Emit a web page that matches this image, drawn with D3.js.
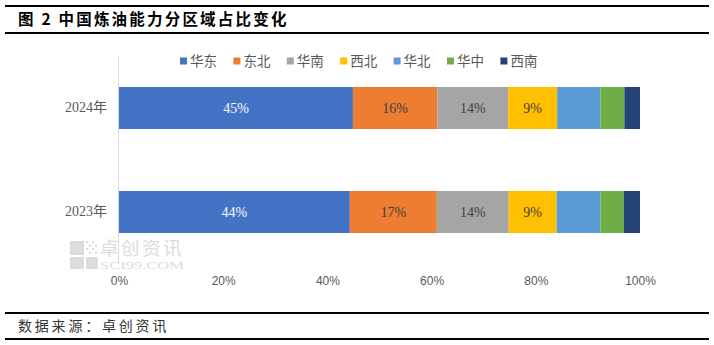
<!DOCTYPE html>
<html>
<head>
<meta charset="utf-8">
<script src="https://cdn.jsdelivr.net/npm/d3@7/dist/d3.min.js"></script>
<style>
  html, body { margin: 0; padding: 0; background: #fff; }
  svg { display: block; }
</style>
</head>
<body>
<svg id="chart" width="714" height="345"></svg>
<script>
// Refining capacity share by region, 2023 vs 2024 (percent)
const years = ["2024年", "2023年"];
const regions = ["华东", "东北", "华南", "西北", "华北", "华中", "西南"];
const colors = ["#4472C4", "#ED7D31", "#A5A5A5", "#FFC000", "#5B9BD5", "#70AD47", "#264478"];
const share2024 = [44.9, 16.2, 13.6, 9.4, 8.3, 4.6, 3.0];
const share2023 = [44.3, 16.7, 13.8, 9.2, 8.4, 4.5, 3.1];
const tickValues = [0, 20, 40, 60, 80, 100];
// Only the first four segments carry value labels
const labeledCount = 4;

const svg = d3.select("#chart");
const cjk = "'Noto Sans CJK SC', 'Noto Sans', sans-serif";
const serif = "'Liberation Serif', 'Noto Sans CJK SC', serif";

// Header / footer rules
const rules = [6, 33, 313, 339];
svg.selectAll("line.rule").data(rules).join("line")
  .attr("class", "rule")
  .attr("x1", 5).attr("x2", 709)
  .attr("y1", d => d).attr("y2", d => d)
  .attr("stroke", "#000").attr("stroke-width", 2);

svg.append("text")
  .attr("x", 18).attr("y", 25)
  .attr("font-family", cjk).attr("font-weight", "bold")
  .attr("font-size", 15.5).attr("letter-spacing", 2.2)
  .attr("fill", "#000")
  .text("图 2 中国炼油能力分区域占比变化");

svg.append("text")
  .attr("x", 18).attr("y", 331)
  .attr("font-family", cjk).attr("font-size", 14)
  .attr("letter-spacing", 2.8)
  .attr("fill", "#333")
  .text("数据来源：卓创资讯");

// Watermark
const wm = svg.append("g").attr("fill", "#dcdcdc");
wm.append("rect").attr("x", 70).attr("y", 241).attr("width", 14).attr("height", 14);
wm.append("rect").attr("x", 70).attr("y", 257).attr("width", 14).attr("height", 12);
wm.append("rect").attr("x", 86).attr("y", 257).attr("width", 12).attr("height", 12);
const dots = [];
for (let i = 0; i < 4; i++) for (let j = 0; j < 4; j++) if ((i + j) % 2 === 0) dots.push([86 + i * 3, 241 + j * 3.5]);
wm.selectAll("rect.dot").data(dots).join("rect")
  .attr("class", "dot")
  .attr("x", d => d[0]).attr("y", d => d[1])
  .attr("width", 2.2).attr("height", 2.2);
wm.append("text")
  .attr("x", 100).attr("y", 255)
  .attr("font-family", cjk).attr("font-size", 18.5)
  .attr("letter-spacing", 2.5)
  .text("卓创资讯");
wm.append("text")
  .attr("x", 100).attr("y", 269)
  .attr("font-family", serif).attr("font-size", 11)
  .attr("textLength", 84).attr("lengthAdjust", "spacingAndGlyphs")
  .text("SCI99.COM");

// Scales
const x = d3.scaleLinear().domain([0, 100]).range([119, 640]);
const y = d3.scaleBand().domain(years).range([56, 264]).paddingInner(0.596).paddingOuter(0.298);

// Stack data
const rows = years.map((yr, i) => {
  const vals = i === 0 ? share2024 : share2023;
  const row = { year: yr };
  regions.forEach((r, k) => row[r] = vals[k]);
  return row;
});
const stack = d3.stack().keys(regions)(rows);

const gBars = svg.append("g");
stack.forEach((layer, k) => {
  gBars.selectAll(null).data(layer).join("rect")
    .attr("x", d => x(d[0]))
    .attr("y", d => y(d.data.year))
    .attr("width", d => x(d[1]) - x(d[0]))
    .attr("height", y.bandwidth())
    .attr("fill", colors[k]);
  if (k < labeledCount) {
    gBars.selectAll(null).data(layer).join("text")
      .attr("x", d => (x(d[0]) + x(d[1])) / 2)
      .attr("y", d => y(d.data.year) + y.bandwidth() / 2)
      .attr("dy", "0.36em")
      .attr("text-anchor", "middle")
      .attr("font-family", serif).attr("font-size", 14)
      .attr("fill", k === 0 ? "#fff" : "#404040")
      .text(d => d3.format(".0f")(d[1] - d[0]) + "%");
  }
});

// Category axis (vertical line + year labels)
svg.append("line")
  .attr("x1", x(0) - 0.5).attr("x2", x(0) - 0.5)
  .attr("y1", 56).attr("y2", 264)
  .attr("stroke", "#d9d9d9").attr("stroke-width", 1);
const yAxis = svg.append("g")
  .attr("transform", `translate(${x(0) - 12},0)`)
  .call(d3.axisLeft(y).tickSize(0).tickPadding(0));
yAxis.select(".domain").remove();
yAxis.selectAll("text")
  .attr("font-family", serif).attr("font-size", 14)
  .attr("fill", "#595959");

// Value axis labels
const xAxis = svg.append("g")
  .attr("transform", "translate(0,276)")
  .call(d3.axisBottom(x).tickValues(tickValues).tickFormat(d => d + "%").tickSize(0).tickPadding(0));
xAxis.select(".domain").remove();
xAxis.selectAll("text")
  .attr("font-family", "'Liberation Sans', Arial, sans-serif").attr("font-size", 12)
  .attr("fill", "#595959");

// Legend
const legend = svg.append("g");
const items = legend.selectAll("g").data(regions).join("g")
  .attr("transform", (d, i) => `translate(${180 + i * 53.4},61)`);
items.append("rect")
  .attr("x", 0).attr("y", -3.5).attr("width", 7).attr("height", 7)
  .attr("fill", (d, i) => colors[i]);
items.append("text")
  .attr("x", 10).attr("y", 0).attr("dy", "0.36em")
  .attr("font-family", cjk).attr("font-size", 13.5)
  .attr("fill", "#595959")
  .text(d => d);
</script>
</body>
</html>
